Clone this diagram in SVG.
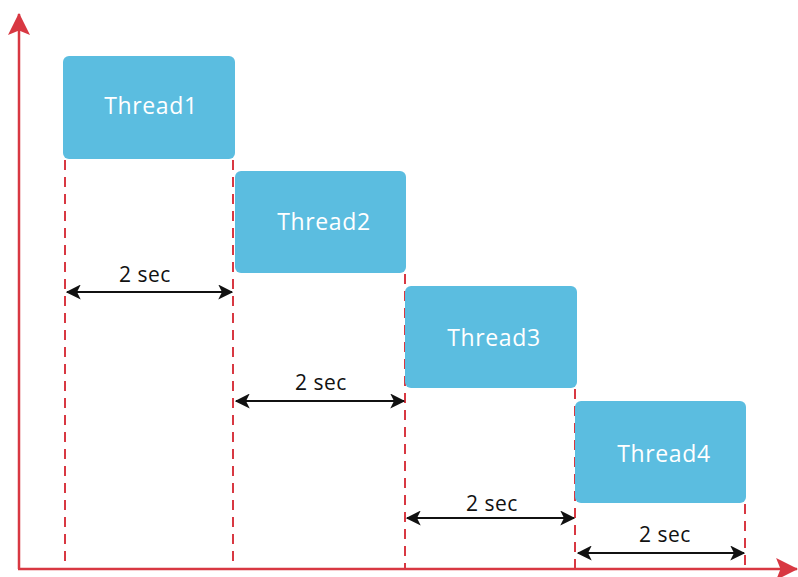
<svg xmlns="http://www.w3.org/2000/svg" width="798" height="577" viewBox="0 0 798 577">
<defs>
<style>
.box{fill:#5BBDE0}
.lbl{fill:#fff;font-family:"Open Sans",Lato,sans-serif;font-size:23px;letter-spacing:0.6px;text-anchor:middle;dominant-baseline:central}
.sec{fill:#111;font-family:"Open Sans",Lato,sans-serif;font-size:21px;letter-spacing:0.5px;text-anchor:middle}
.dash{stroke:#D83842;stroke-width:2;stroke-dasharray:10,7;fill:none}
.axis{stroke:#D83842;stroke-width:2.5;fill:none}
.dim{stroke:#111;stroke-width:2;fill:none;marker-start:url(#ah);marker-end:url(#ah)}
</style>
<marker id="ah" viewBox="0 0 12 12" refX="11" refY="6" markerWidth="15" markerHeight="15" markerUnits="userSpaceOnUse" orient="auto-start-reverse">
<path d="M0,0 L12,6 L0,12 L3,6 Z" fill="#111"/>
</marker>
<marker id="ax" viewBox="0 0 20 20" refX="19" refY="10" markerWidth="22" markerHeight="22" markerUnits="userSpaceOnUse" orient="auto">
<path d="M0,0 L20,10 L0,20 L4,10 Z" fill="#D83842"/>
</marker>
</defs>
<rect width="798" height="577" fill="#fff"/>
<g id="connectors">
<line class="dash" x1="65" y1="160" x2="65" y2="569"/>
<line class="dash" x1="233" y1="160" x2="233" y2="569"/>
<line class="dash" x1="405" y1="274" x2="405" y2="569"/>
<line class="dash" x1="575" y1="389" x2="575" y2="569"/>
<line class="dash" x1="745" y1="504" x2="745" y2="569"/>
<line class="axis" x1="19" y1="569" x2="19" y2="14" marker-end="url(#ax)"/>
<line class="axis" x1="18" y1="569" x2="797" y2="569" marker-end="url(#ax)"/>
<line class="dim" x1="67" y1="292" x2="232" y2="292"/>
<text class="sec" x="145" y="282">2 sec</text>
<line class="dim" x1="236" y1="401" x2="404" y2="401"/>
<text class="sec" x="321" y="390">2 sec</text>
<line class="dim" x1="407" y1="518" x2="574" y2="518"/>
<text class="sec" x="492" y="511">2 sec</text>
<line class="dim" x1="578" y1="553" x2="744" y2="553"/>
<text class="sec" x="665" y="542">2 sec</text>
</g>
<g id="thread1"><rect class="box" x="63" y="56" width="172" height="103" rx="6"/><text class="lbl" x="151" y="105">Thread1</text></g>
<g id="thread2"><rect class="box" x="235" y="171" width="171" height="102" rx="6"/><text class="lbl" x="324" y="221">Thread2</text></g>
<g id="thread3"><rect class="box" x="405" y="286" width="172" height="102" rx="6"/><text class="lbl" x="494" y="337">Thread3</text></g>
<g id="thread4"><rect class="box" x="575" y="401" width="171" height="102" rx="6"/><text class="lbl" x="664" y="453">Thread4</text></g>
</svg>
